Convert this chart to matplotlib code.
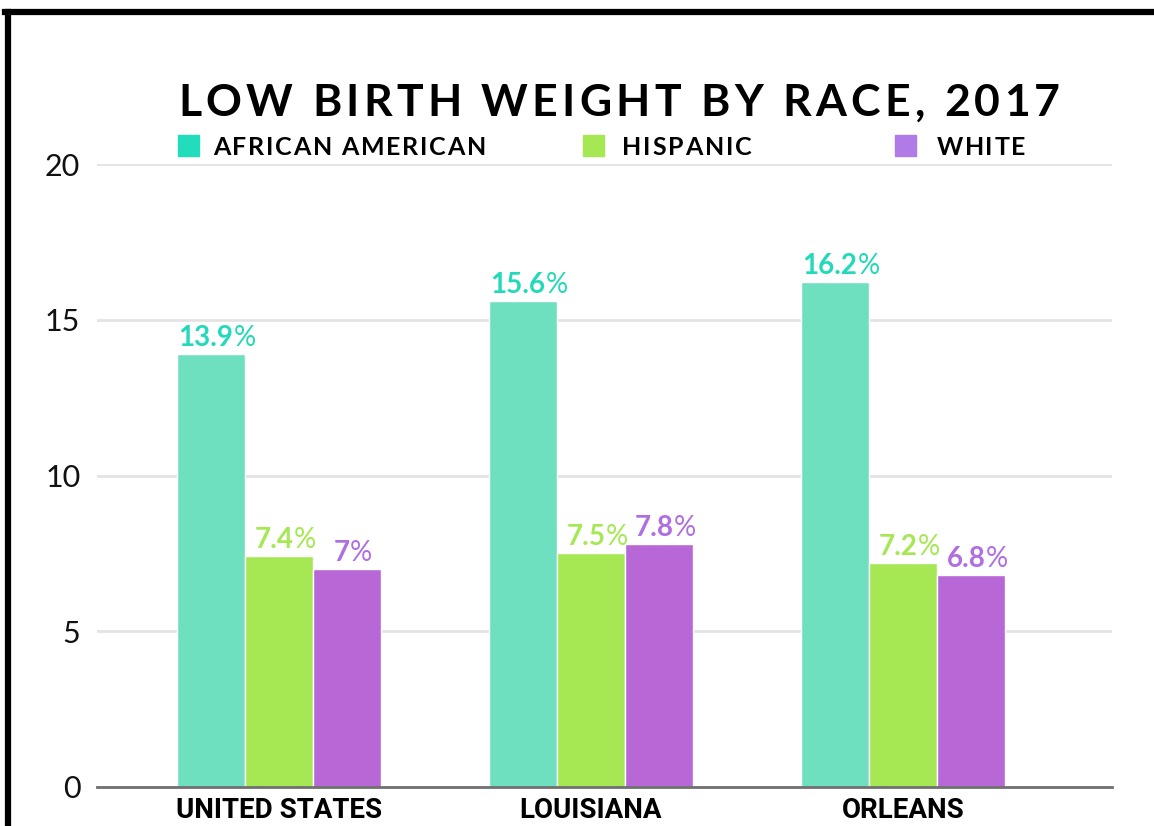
import matplotlib
matplotlib.use("Agg")
import matplotlib.pyplot as plt
from matplotlib.font_manager import FontProperties
from matplotlib.lines import Line2D
from matplotlib.patches import Rectangle
import numpy as np

categories = ["UNITED STATES", "LOUISIANA", "ORLEANS"]
series_names = ["AFRICAN AMERICAN", "HISPANIC", "WHITE"]
african_american = [13.9, 15.6, 16.2]
hispanic = [7.4, 7.5, 7.2]
white = [7.0, 7.8, 6.8]
yticks = [0, 5, 10, 15, 20]
title = "LOW BIRTH WEIGHT BY RACE, 2017"

bar_colors = ["#6fe0bf", "#a5e854", "#b868d6"]
label_colors = ["#22d9b9", "#a5e854", "#b06fe0"]
legend_colors = ["#22ddbb", "#a5e854", "#b07be6"]

W, H = 1154, 826
fig = plt.figure(figsize=(W / 100, H / 100), dpi=100)
fig.patch.set_facecolor("white")

def fx(px):
    return px / W

def fy(py):
    return 1 - py / H

ax = fig.add_axes([fx(97), fy(787), (1112 - 97) / W, (787 - 164) / H])
x = np.arange(len(categories))
bw = 0.218
all_series = [african_american, hispanic, white]
for i, vals in enumerate(all_series):
    ax.bar(x + (i - 1) * bw, vals, width=bw, color=bar_colors[i],
           edgecolor="white", linewidth=1.0, zorder=3)

ax.set_ylim(0, 20)
ax.set_xlim(-0.5833, 2.670)
ax.set_yticks(yticks)
ax.set_yticklabels([str(t) for t in yticks])
ax.yaxis.grid(True, color="#e3e3e3", linewidth=2, zorder=0)
ax.set_axisbelow(True)
for s in ["top", "right", "left"]:
    ax.spines[s].set_visible(False)
ax.spines["bottom"].set_color("#707070")
ax.spines["bottom"].set_linewidth(2)
ax.spines["bottom"].set_zorder(4)
ax.tick_params(axis="y", length=0, pad=12)
ax.tick_params(axis="x", length=0, pad=7)
for lab in ax.get_yticklabels():
    lab.set_fontfamily(["Lato", "DejaVu Sans"])
    lab.set_fontweight("normal")
    lab.set_fontsize(22)
    lab.set_color("#111111")
ax.set_xticks(x)
ax.set_xticklabels(categories, fontsize=20, fontweight="bold",
                   family=["Roboto", "DejaVu Sans"], color="black")

fig.canvas.draw()
renderer = fig.canvas.get_renderer()

def text_w(s, prop):
    w, h, d = renderer.get_text_width_height_descent(s, prop, ismath=False)
    return w

def tracked(s, x0, y, target_w, prop, color):
    widths = [text_w(c, prop) for c in s]
    gap = (target_w - sum(widths)) / (len(s) - 1)
    xc = x0
    for c, w in zip(s, widths):
        if c != " ":
            fig.text(fx(xc), fy(y), c, fontproperties=prop, color=color,
                     ha="left", va="baseline")
        xc += w + gap

# title
title_prop = FontProperties(family=["Lato", "DejaVu Sans"], weight="bold", size=32)
tracked(title, 178, 116, 882, title_prop, "black")

# legend
leg_prop = FontProperties(family=["Lato", "DejaVu Sans"], weight="bold", size=18)
leg_sq_x = [178, 583, 895]
leg_tx = [213, 622, 937]
leg_tw = [273, 130, 88]
for i, name in enumerate(series_names):
    fig.patches.append(Rectangle((fx(leg_sq_x[i]), fy(156)), 21 / W, 21 / H,
                                 transform=fig.transFigure, color=legend_colors[i]))
    tracked(name, leg_tx[i], 155, leg_tw[i], leg_prop, "black")

# value labels
num_prop = FontProperties(family=["Lato", "DejaVu Sans"], weight="bold", size=20)
pct_prop = FontProperties(family=["Lato", "DejaVu Sans"], weight="normal", size=20)
for i, vals in enumerate(all_series):
    for j, v in enumerate(vals):
        s = f"{v:g}"
        xd = x[j] + (i - 1) * bw
        xp, yp = ax.transData.transform((xd, v))
        ypx = H - yp
        w1 = text_w(s, num_prop)
        w2 = text_w("%", pct_prop)
        start = xp + 6 - (w1 + w2) / 2
        fig.text(fx(start), fy(ypx - 8), s, fontproperties=num_prop,
                 color=label_colors[i], ha="left", va="baseline")
        fig.text(fx(start + w1), fy(ypx - 8), "%", fontproperties=pct_prop,
                 color=label_colors[i], ha="left", va="baseline")

# border
fig.lines.append(Line2D([fx(5), 1.0], [fy(12), fy(12)], transform=fig.transFigure,
                        color="black", linewidth=4.5))
fig.lines.append(Line2D([fx(8), fx(8)], [fy(12), 0.0], transform=fig.transFigure,
                        color="black", linewidth=4.5))

fig.savefig("out.png", dpi=100)
